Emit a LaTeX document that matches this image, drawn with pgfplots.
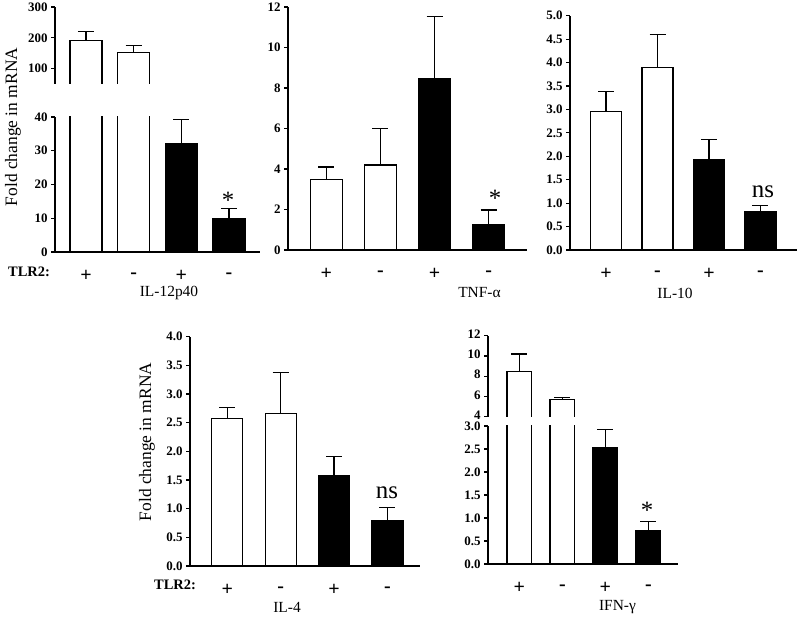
\documentclass[border=0pt]{standalone}
\usepackage{fontspec}
\setmainfont{Liberation Serif}
\usepackage{pgfplots}
\pgfplotsset{compat=1.18}
\pgfplotsset{
  panel/.style={scale only axis, axis x line*=bottom, axis y line*=left,
    axis line style={-, line width=1.2bp}, tick align=outside, major tick length=4bp,
    ytick style={line width=1.2bp, black}, xtick style={draw=none},
    xtick={0,1,2,3}, xticklabels={\textbf{+},\textbf{-},\textbf{+},\textbf{-}},
    xticklabel style={font=\bfseries\fontsize{20}{20}\selectfont, anchor=center, yshift=-20bp},
    yticklabel style={font=\bfseries\fontsize{13}{13}\selectfont},
    /pgf/number format/assume math mode=true, ymin=0, clip=true},
  upper/.style={scale only axis, axis x line=none, axis y line*=left,
    axis line style={-, line width=1.2bp}, tick align=outside, major tick length=4bp,
    ytick style={line width=1.2bp, black}, xtick=\empty,
    yticklabel style={font=\bfseries\fontsize{13}{13}\selectfont},
    /pgf/number format/assume math mode=true, clip=true},
  half/.style={yticklabel style={/pgf/number format/.cd, fixed, fixed zerofill, precision=1}},
  errs/.style={error bars/.cd, y dir=plus, y explicit,
    error bar style={draw=black, line width=1.2bp},
    error mark options={draw=black, line width=1.2bp, mark size=8bp, rotate=90}},
  wbar/.style={ybar, bar shift=0pt, fill=white, draw=black, line width=1.2bp, errs},
  bbar/.style={ybar, bar shift=0pt, fill=black, draw=black, line width=1.2bp, errs},
  openbar/.style={fill=white, draw=black, line width=1.2bp, mark=none},
  onlyerr/.style={draw=none, mark=none, errs},
}
\begin{document}
\begin{tikzpicture}
\useasboundingbox (0,0) rectangle (800bp,620bp);
% ---------- IL-12p40 ----------
\begin{axis}[panel, at={(55bp,368bp)}, anchor=south west, width=205bp, height=135bp,
  xmin=-0.65, xmax=3.65, ymax=40, ytick={0,10,20,30,40}, bar width=0.67]
\addplot[wbar] coordinates {(0,192) +- (0,28) (1,151) +- (0,23)};
\addplot[bbar] coordinates {(2,32.2) +- (0,7.1) (3,9.8) +- (0,3.1)};
\end{axis}
\begin{axis}[upper, at={(55bp,536bp)}, anchor=south west, width=205bp, height=77bp,
  xmin=-0.65, xmax=3.65, ymin=50, ymax=300, ytick={100,200,300}]
\addplot[openbar] coordinates {(-0.335,0) (-0.335,192) (0.335,192) (0.335,0)};
\addplot[openbar] coordinates {(0.665,0) (0.665,151) (1.335,151) (1.335,0)};
\addplot[onlyerr] coordinates {(0,192) +- (0,28) (1,151) +- (0,23)};
\end{axis}
% ---------- TNF-alpha ----------
\begin{axis}[panel, at={(288bp,370bp)}, anchor=south west, width=239bp, height=243bp,
  xmin=-0.71, xmax=3.71, ymax=12, ytick={0,2,4,6,8,10,12}, bar width=0.59]
\addplot[wbar] coordinates {(0,3.5) +- (0,0.6) (1,4.2) +- (0,1.8)};
\addplot[bbar] coordinates {(2,8.45) +- (0,3.1) (3,1.27) +- (0,0.71)};
\end{axis}
% ---------- IL-10 ----------
\begin{axis}[panel, half, at={(570bp,370bp)}, anchor=south west, width=227bp, height=234.3bp,
  xmin=-0.70, xmax=3.71, ymax=5, ytick={0,0.5,...,5}, bar width=0.6]
\addplot[wbar] coordinates {(0,2.95) +- (0,0.43) (1,3.9) +- (0,0.7)};
\addplot[bbar] coordinates {(2,1.93) +- (0,0.42) (3,0.82) +- (0,0.13)};
\end{axis}
% ---------- IL-4 ----------
\begin{axis}[panel, half, at={(190bp,54bp)}, anchor=south west, width=230bp, height=229.3bp,
  xmin=-0.70, xmax=3.61, ymax=4, ytick={0,0.5,...,4}, bar width=0.58]
\addplot[wbar] coordinates {(0,2.58) +- (0,0.19) (1,2.66) +- (0,0.72)};
\addplot[bbar] coordinates {(2,1.57) +- (0,0.34) (3,0.785) +- (0,0.24)};
\end{axis}
% ---------- IFN-gamma ----------
\begin{axis}[panel, half, at={(488bp,56bp)}, anchor=south west, width=190bp, height=138bp,
  xmin=-0.73, xmax=3.69, ymax=3, ytick={0,0.5,...,3}, bar width=0.58]
\addplot[wbar] coordinates {(0,8.44) +- (0,1.76) (1,5.7) +- (0,0.2)};
\addplot[bbar] coordinates {(2,2.53) +- (0,0.4) (3,0.72) +- (0,0.2)};
\end{axis}
\begin{axis}[upper, at={(488bp,203.3bp)}, anchor=south west, width=190bp, height=81bp,
  xmin=-0.73, xmax=3.69, ymin=4, ymax=12, ytick={4,6,8,10,12},
  yticklabel style={yshift=1.5bp}]
\addplot[openbar] coordinates {(-0.29,0) (-0.29,8.44) (0.29,8.44) (0.29,0)};
\addplot[openbar] coordinates {(0.71,0) (0.71,5.7) (1.29,5.7) (1.29,0)};
\addplot[onlyerr] coordinates {(0,8.44) +- (0,1.76) (1,5.7) +- (0,0.2)};
\end{axis}
% ---------- labels ----------
\begin{scope}[every node/.style={inner sep=0pt}]
\node[font=\bfseries\fontsize{14.5}{14.5}\selectfont] at (29bp,348bp) {TLR2:};
\node[font=\bfseries\fontsize{14.5}{14.5}\selectfont] at (175bp,35bp) {TLR2:};
\node[font=\fontsize{15.5}{15.5}\selectfont] at (169bp,327bp) {IL-12p40};
\node[font=\fontsize{15.5}{15.5}\selectfont] at (479.5bp,327bp) {TNF-α};
\node[font=\fontsize{15.5}{15.5}\selectfont] at (675bp,327bp) {IL-10};
\node[font=\fontsize{15.5}{15.5}\selectfont] at (287bp,13bp) {IL-4};
\node[font=\fontsize{15.5}{15.5}\selectfont] at (617.5bp,13bp) {IFN-γ};
\node[font=\fontsize{17.5}{17.5}\selectfont, rotate=90] at (13bp,493bp) {Fold change in mRNA};
\node[font=\fontsize{17.5}{17.5}\selectfont, rotate=90] at (147bp,178bp) {Fold change in mRNA};
\node[font=\fontsize{25}{25}\selectfont] at (228bp,420bp) {*};
\node[font=\fontsize{25}{25}\selectfont] at (495bp,422bp) {*};
\node[font=\fontsize{25}{25}\selectfont] at (647bp,110bp) {*};
\node[font=\fontsize{25}{25}\selectfont] at (763bp,428.3bp) {ns};
\node[font=\fontsize{25}{25}\selectfont] at (387bp,127bp) {ns};
\end{scope}
\end{tikzpicture}
\end{document}
